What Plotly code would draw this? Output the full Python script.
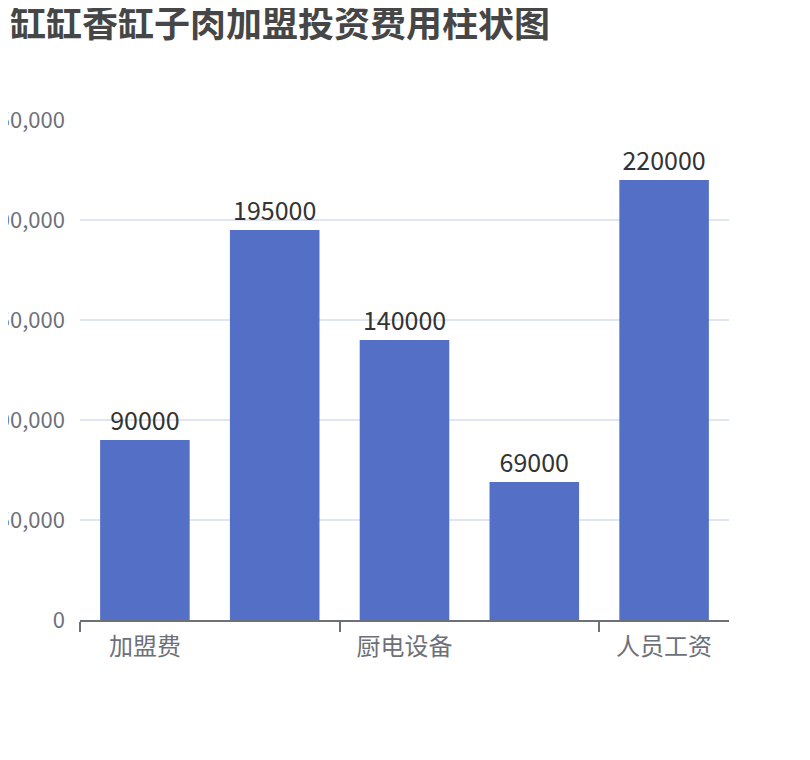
import plotly.graph_objects as go

# 加盟投资费用 (元)
categories = ["加盟费", "店面租金", "厨电设备", "原料采购", "人员工资"]
costs = [90000, 195000, 140000, 69000, 220000]
y_ticks = [0, 50000, 100000, 150000, 200000, 250000]

font_family = "Noto Sans CJK SC, Noto Sans, sans-serif"

fig = go.Figure()
fig.add_trace(go.Bar(
    x=categories,
    y=costs,
    marker=dict(color="#5470C6", line=dict(width=0)),
    text=[str(v) for v in costs],
    textposition="outside",
    textfont=dict(size=25, color="#333333"),
    cliponaxis=False,
    width=0.69,
))

# page has an 8px body margin, so margins are shifted by 8
fig.update_layout(
    width=810,
    height=760,
    margin=dict(l=72, r=89, t=112, b=148),
    paper_bgcolor="white",
    plot_bgcolor="white",
    font=dict(family=font_family, size=24, color="#6E7079"),
    title=dict(
        text="<b>缸缸香缸子肉加盟投资费用柱状图</b>",
        x=0.0025, xanchor="left", y=0.978, yanchor="middle",
        font=dict(size=36, color="#464646", family=font_family),
    ),
    showlegend=False,
)

fig.update_xaxes(
    type="category",
    tickmode="linear", tick0=0, dtick=2,
    tickson="boundaries",
    ticks="outside", ticklen=10, tickcolor="#6E7079", tickwidth=1.5,
    showline=True, linecolor="#6E7079", linewidth=1.5,
    showgrid=False,
    tickfont=dict(size=24, color="#6E7079"),
    ticklabelstandoff=4,
)

fig.update_yaxes(
    range=[0, 250000],
    tickvals=y_ticks,
    tickformat=",d",
    showgrid=True, gridcolor="#E0E6F1", gridwidth=1.5,
    zeroline=False, showline=False,
    automargin=False,
    ticklabelstandoff=14,
    tickfont=dict(size=22, color="#6E7079"),
)

fig.write_html("out.html")
